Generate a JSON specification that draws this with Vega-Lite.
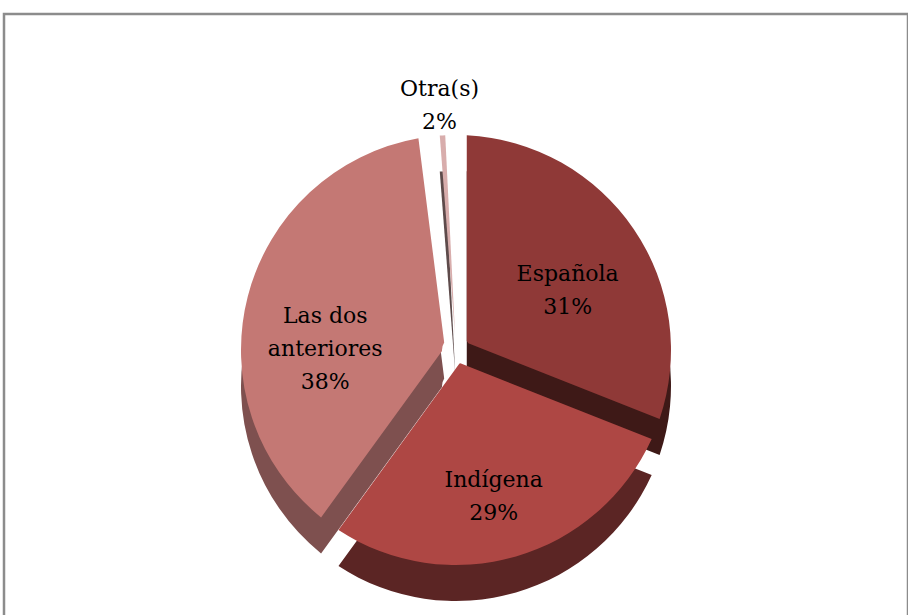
{
  "$schema": "https://vega.github.io/schema/vega-lite/v6.json",
  "width": 904,
  "height": 672,
  "autosize": {"type": "none"},
  "padding": {"left": 4, "top": 14, "right": 0, "bottom": 0},
  "background": "white",
  "view": {"stroke": "#8c8c8c", "strokeWidth": 2.5},
  "data": {
    "values": [
      {"cat": "Española", "value": 31, "order": 1, "label": "Española\n31%"},
      {"cat": "Indígena", "value": 29, "order": 2, "label": "Indígena\n29%"},
      {"cat": "Las dos anteriores", "value": 38, "order": 3, "label": "Las dos\nanteriores\n38%"},
      {"cat": "Otra(s)", "value": 2, "order": 4, "label": "Otra(s)\n2%"}
    ]
  },
  "encoding": {
    "theta": {"field": "value", "type": "quantitative", "stack": true},
    "order": {"field": "order", "type": "quantitative"}
  },
  "layer": [
    {
      "mark": {"type": "arc", "innerRadius": 14, "outerRadius": 215, "padAngle": 0.1, "yOffset": 36},
      "encoding": {
        "color": {
          "field": "cat", "type": "nominal", "legend": null,
          "scale": {
            "domain": ["Española", "Indígena", "Las dos anteriores", "Otra(s)"],
            "range": ["#3E1917", "#5B2524", "#7E504F", "#5E4B4B"]
          }
        }
      }
    },
    {
      "mark": {"type": "arc", "innerRadius": 14, "outerRadius": 215, "padAngle": 0.1},
      "encoding": {
        "color": {
          "field": "cat", "type": "nominal", "legend": null,
          "scale": {
            "domain": ["Española", "Indígena", "Las dos anteriores", "Otra(s)"],
            "range": ["#8F3937", "#AE4744", "#C47874", "#D8ADAC"]
          }
        }
      }
    },
    {
      "mark": {"type": "text", "radius": 135, "lineBreak": "\n", "font": "DejaVu Serif", "fontSize": 22, "color": "#000000", "align": "center", "baseline": "middle", "lineHeight": 33},
      "encoding": {
        "text": {"condition": {"test": "datum.cat != 'Otra(s)'", "field": "label"}, "value": ""}
      }
    },
    {
      "mark": {"type": "text", "radius": 262, "lineBreak": "\n", "font": "DejaVu Serif", "fontSize": 22, "color": "#000000", "align": "center", "baseline": "middle", "lineHeight": 33},
      "encoding": {
        "text": {"condition": {"test": "datum.cat == 'Otra(s)'", "field": "label"}, "value": ""}
      }
    }
  ],
  "resolve": {"scale": {"color": "independent"}}
}
